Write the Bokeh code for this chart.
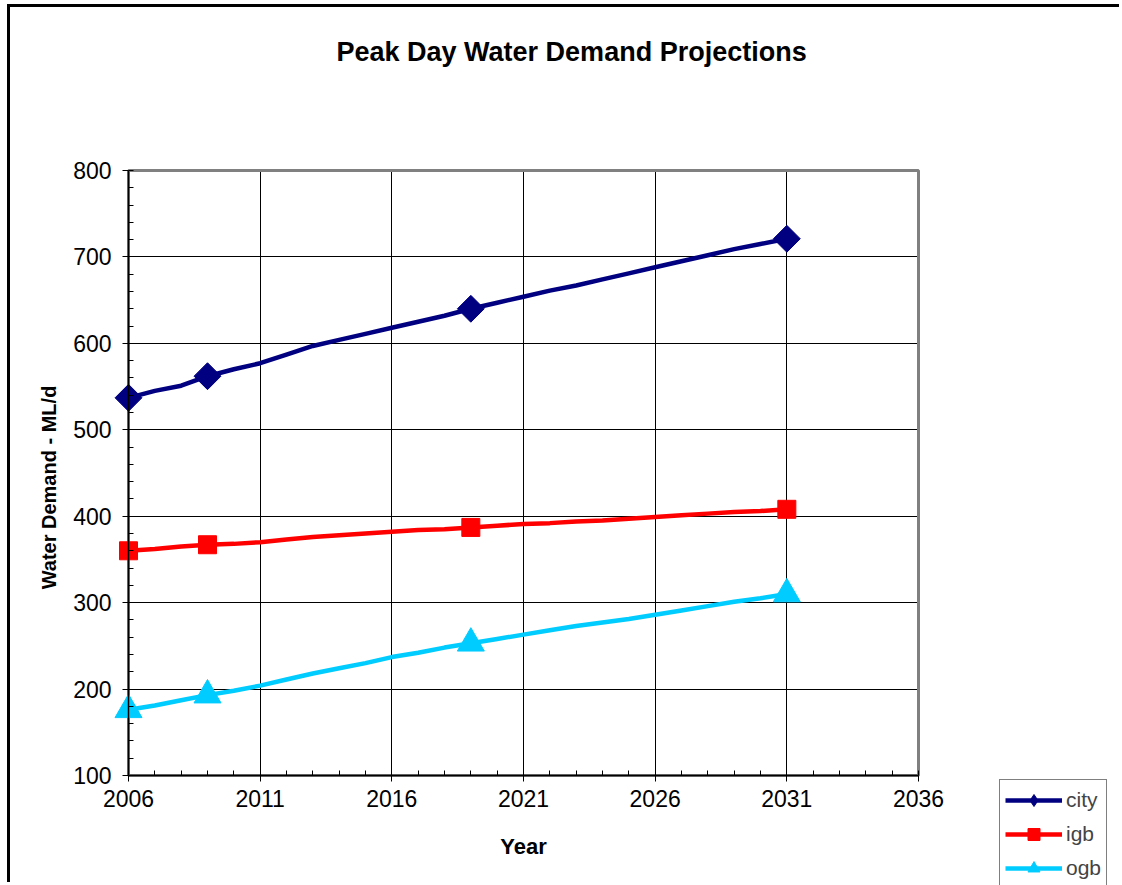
from bokeh.plotting import figure
from bokeh.models import Range1d, SingleIntervalTicker, FixedTicker, Legend, LegendItem, Label
from bokeh.embed import file_html
from bokeh.resources import INLINE
import numpy as np

# ---- data ----
years = list(range(2006, 2032))
city = [537, 545, 551, 562, 570, 577, 587, 597, 604, 611, 618, 625, 632, 640,
        647, 654, 661, 667, 674, 681, 688, 695, 702, 709, 715, 721]
igb = [360, 362, 365, 367, 368, 370, 373, 376, 378, 380, 382, 384, 385, 387,
       389, 391, 392, 394, 395, 397, 399, 401, 403, 405, 406, 408]
ogb = [176, 181, 187, 193, 198, 204, 211, 218, 224, 230, 237, 242, 248, 253,
       258, 263, 268, 273, 277, 281, 286, 291, 296, 301, 305, 310]
marker_years = [2006, 2009, 2019, 2031]
series_names = ["city", "igb", "ogb"]
x_tick_values = [2006, 2011, 2016, 2021, 2026, 2031, 2036]
x_minor_values = list(range(2006, 2037))
x_start, x_end = 2006, 2036
y_min, y_max = 100, 800

FONT = "Liberation Sans"

# ---- layout (pixels) ----
W, H = 1112, 878                  # canvas size
PA_LEFT, PA_TOP = 118, 163        # plot area offset inside canvas
PA_W, PA_H = 790, 605             # plot area size
xs = PA_W / (x_end - x_start)
ys = PA_H / (y_max - y_min)
xr = Range1d(x_start - PA_LEFT / xs, x_start - PA_LEFT / xs + W / xs)
yr = Range1d(y_max + PA_TOP / ys - H / ys, y_max + PA_TOP / ys)

p = figure(width=W, height=H, output_backend="svg", toolbar_location=None,
           x_range=xr, y_range=yr, min_border=0)
p.styles = {"margin-left": "7px", "margin-top": "4px",
            "border-left": "3px solid black", "border-top": "3px solid black"}
p.background_fill_color = "white"
p.border_fill_color = "white"
p.outline_line_color = None

# plot-area border (grey frame)
p.quad(left=[x_start], right=[x_end], bottom=[y_min], top=[y_max],
       fill_color=None, line_color="#808080", line_width=3)

# axes at fixed positions
xticker = FixedTicker(ticks=x_tick_values, minor_ticks=x_minor_values)
yticker = SingleIntervalTicker(interval=100, num_minor_ticks=5)
p.xaxis.ticker = xticker
p.yaxis.ticker = yticker
p.xgrid.ticker = xticker
p.ygrid.ticker = yticker
p.xaxis.fixed_location = y_min
p.yaxis.fixed_location = x_start
p.xaxis.bounds = (x_start, x_end)
p.yaxis.bounds = (y_min, y_max)
for ax in (p.xaxis[0], p.yaxis[0]):
    ax.axis_line_color = "black"
    ax.axis_line_width = 1.5
    ax.major_tick_line_color = "black"
    ax.minor_tick_line_color = "black"
    ax.major_tick_out = 6
    ax.major_tick_in = 0
    ax.minor_tick_out = 0
    ax.minor_tick_in = 5
    ax.major_label_text_font = FONT
    ax.major_label_text_font_size = "23px"
    ax.major_label_text_color = "black"
    ax.axis_label_text_font = FONT
    ax.axis_label_text_font_style = "bold"
    ax.axis_label_text_color = "black"
p.xaxis.major_label_standoff = 8
p.yaxis.major_label_standoff = 11
p.xaxis.axis_label = "Year"
p.xaxis.axis_label_text_font_size = "22px"
p.xaxis.axis_label_standoff = 24

p.xgrid.cross_bounds = (y_min, y_max)
p.ygrid.cross_bounds = (x_start, x_end)
p.grid.grid_line_color = "black"
p.grid.grid_line_width = 1
p.grid.grid_line_alpha = 1.0

colors = {"city": "#000080", "igb": "#FF0000", "ogb": "#00CCFF"}
values = {"city": city, "igb": igb, "ogb": ogb}
markers = {"city": ("square", 19, np.pi / 4), "igb": ("square", 18, 0.0), "ogb": ("triangle", 27, 0.0)}
idx = [years.index(y) for y in marker_years]

items = []
for name in series_names:
    c = colors[name]
    mx = [years[i] for i in idx]
    my = [values[name][i] for i in idx]
    r1 = p.line(years, values[name], line_color=c, line_width=4.5, line_join="round")
    mk, sz, ang = markers[name]
    r2 = p.scatter(mx, my, marker=mk, size=sz, angle=ang, fill_color=c, line_color=c)
    if ang != 0.0:
        # legend swatch: an unrotated diamond (legend ignores marker angle)
        r2 = p.scatter(mx, my, marker="diamond", size=sz, fill_color=c, line_color=c, visible=False)
    items.append(LegendItem(label=name, renderers=[r1, r2]))

legend = Legend(items=items, location=(989, -4), orientation="vertical",
                glyph_width=57, glyph_height=30, label_height=30, spacing=4, padding=5,
                label_standoff=4, label_text_font=FONT, label_text_font_size="21px",
                border_line_color="black", border_line_width=1, background_fill_color="white",
                margin=0, inactive_fill_alpha=0.0)
p.add_layout(legend, "center")

title = Label(x=326, y=834, x_units="screen", y_units="screen",
              text="Peak Day Water Demand Projections", text_align="left", text_baseline="middle",
              text_font=FONT, text_font_size="27px", text_font_style="bold", text_color="black")
p.add_layout(title)

ylabel = Label(x=38, y=398, x_units="screen", y_units="screen", angle=np.pi / 2,
               text="Water Demand - ML/d", text_align="center", text_baseline="middle",
               text_font=FONT, text_font_size="20px", text_font_style="bold", text_color="black")
p.add_layout(ylabel)

open("out.html", "w").write(file_html(p, INLINE))
